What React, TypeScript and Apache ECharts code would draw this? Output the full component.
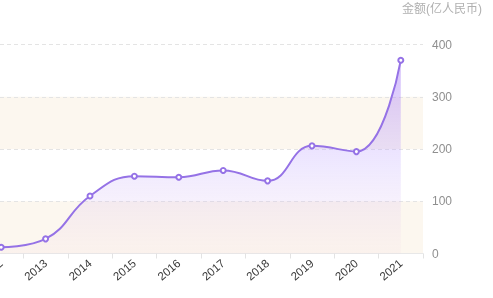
import React, { useEffect, useRef } from "react";
import * as echarts from "echarts";

const years = ["2012", "2013", "2014", "2015", "2016", "2017", "2018", "2019", "2020", "2021"];
const amounts = [12, 28, 110, 148, 146, 159, 139, 206, 195, 370];
const yTicks = { min: 0, max: 400, interval: 100 };
const axisName = "金额(亿人民币)";

const FONT = "'Liberation Sans', 'Noto Sans CJK SC', sans-serif";

export default function App() {
  const ref = useRef<HTMLDivElement>(null);
  useEffect(() => {
    if (!ref.current) return;
    const chart = echarts.init(ref.current, null, { renderer: "svg" });
    chart.setOption({
      animation: false,
      textStyle: { fontFamily: FONT },
      grid: { left: -21, right: 70, top: 44.5, bottom: 44.5, containLabel: false, outerBoundsMode: "none" },
      xAxis: {
        type: "category",
        data: years,
        boundaryGap: true,
        axisLine: { lineStyle: { color: "#e8e8e8" } },
        axisTick: { show: true, length: 5, lineStyle: { color: "#e3e3e3" } },
        axisLabel: { rotate: 40, color: "#3a3a3a", fontSize: 11.5, margin: 8, fontFamily: FONT },
        splitLine: { show: false },
      },
      yAxis: {
        type: "value",
        position: "right",
        min: yTicks.min,
        max: yTicks.max,
        interval: yTicks.interval,
        name: axisName,
        nameLocation: "end",
        nameGap: 30,
        nameTextStyle: { color: "#b0b0b0", fontSize: 12, align: "center", padding: [0, 0, 0, 38], fontFamily: FONT },
        axisLine: { show: false },
        axisTick: { show: false },
        axisLabel: { color: "#8f8f8f", fontSize: 12, margin: 9, fontFamily: FONT },
        splitLine: { show: true, lineStyle: { color: "#e4e4e4", type: [4, 3] } },
        splitArea: {
          show: true,
          areaStyle: { color: ["rgba(248,236,218,0.42)", "rgba(255,255,255,0)"] },
        },
      },
      series: [
        {
          type: "line",
          data: amounts,
          smooth: 0.45,
          symbol: "emptyCircle",
          symbolSize: 5,
          lineStyle: { color: "#9572e6", width: 2 },
          itemStyle: { color: "#9572e6", borderWidth: 1.5 },
          areaStyle: {
            color: new echarts.graphic.LinearGradient(0, 0, 0, 1, [
              { offset: 0, color: "rgba(160,110,245,0.65)" },
              { offset: 0.55, color: "rgba(190,165,255,0.35)" },
              { offset: 1, color: "rgba(240,200,220,0.15)" },
            ]),
          },
        },
      ],
    });
    return () => chart.dispose();
  }, []);
  return <div ref={ref} style={{ position: "fixed", left: 0, top: 0, width: 493, height: 298 }} />;
}
